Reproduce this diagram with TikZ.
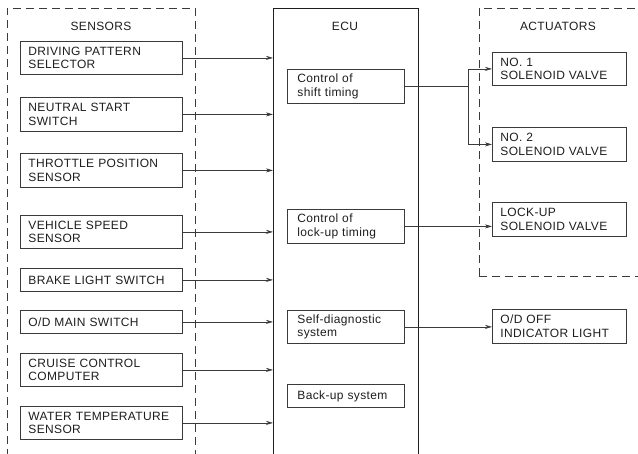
\documentclass[tikz,border=0pt]{standalone}
\usepackage{fontspec}
\setmainfont{Liberation Sans}[LetterSpace=3]
\usetikzlibrary{arrows.meta}
\definecolor{ink}{HTML}{1E1E1E}
\definecolor{lineink}{HTML}{3A3A3A}
\tikzset{
  txt/.style={font=\fontsize{12}{13.5}\selectfont, text=ink},
  box/.style={txt, draw=lineink, line width=0.8pt, anchor=north west, align=left, inner xsep=8pt, inner ysep=0pt},
  sbox/.style={box, minimum width=162pt, text width=146pt},
  ibox/.style={box, minimum width=117pt, text width=97pt, inner xsep=10pt},
  abox/.style={box, minimum width=134pt, text width=118pt},
  group/.style={draw=lineink, line width=0.8pt, dash pattern=on 8pt off 5pt},
  conn/.style={draw=lineink, line width=0.6pt},
  arr/.style={conn, -{Stealth[length=7pt,width=4pt]}},
}
\begin{document}
\begin{tikzpicture}[x=1pt,y=-1pt]
\useasboundingbox[fill=white] (0,0) rectangle (638,454);
% group frames
\draw[group] (7,470) -- (7,8) -- (195,8) -- (195,470);
\draw[group] (479,276) -- (479,8) -- (650,8);
\draw[group] (479,276) -- (650,276);
\node[txt] (senst) at (101,26) {SENSORS};
\node[txt] (actt) at (558,26) {ACTUATORS};
% ECU
\node[draw=ink, line width=1pt, minimum width=145pt, minimum height=470pt, anchor=north west, inner sep=0pt] (ecu) at (273,8) {};
\node[txt] (ecut) at (345,26) {ECU};
% sensors
\node[sbox, minimum height=33pt] (s1) at (20,41) {DRIVING PATTERN\\SELECTOR};
\node[sbox, minimum height=34pt] (s2) at (20,97) {NEUTRAL START\\SWITCH};
\node[sbox, minimum height=34pt] (s3) at (20,153) {THROTTLE POSITION\\SENSOR};
\node[sbox, minimum height=33pt] (s4) at (20,215) {VEHICLE SPEED\\SENSOR};
\node[sbox, minimum height=23pt] (s5) at (20,268) {BRAKE LIGHT SWITCH};
\node[sbox, minimum height=23pt] (s6) at (20,310) {O/D MAIN SWITCH};
\node[sbox, minimum height=33pt] (s7) at (20,353) {CRUISE CONTROL\\COMPUTER};
\node[sbox, minimum height=33pt] (s8) at (20,406) {WATER TEMPERATURE\\SENSOR};
% ECU inner boxes
\node[ibox, minimum height=34pt] (e1) at (287,69) {Control of\\shift timing};
\node[ibox, minimum height=34pt] (e2) at (287,209) {Control of\\lock-up timing};
\node[ibox, minimum height=33pt] (e3) at (287,310) {Self-diagnostic\\system};
\node[ibox, minimum height=23pt] (e4) at (287,384) {Back-up system};
% actuators
\node[abox, minimum height=33pt] (a1) at (492,52) {NO. 1\\SOLENOID VALVE};
\node[abox, minimum height=34pt] (a2) at (492,127) {NO. 2\\SOLENOID VALVE};
\node[abox, minimum height=34pt] (a3) at (492,202) {LOCK-UP\\SOLENOID VALVE};
\node[abox, minimum height=34pt] (a4) at (492,309) {O/D OFF\\INDICATOR LIGHT};
% sensor connectors
\foreach \s in {s1,s2,s3,s4,s5,s6,s7,s8}
  \draw[arr] (\s.east) -- (\s.east -| ecu.west);
% actuator connectors
\coordinate (sx) at (468,0);
\coordinate (split) at (e1.east -| sx);
\draw[arr] (e1.east) -- (split) |- (a1.west);
\draw[arr] (e1.east) -- (split) |- (a2.west);
\draw[arr] (e2.east) -- (e2.east -| a3.west);
\draw[arr] (e3.east) -- (e3.east -| a4.west);
\end{tikzpicture}
\end{document}
